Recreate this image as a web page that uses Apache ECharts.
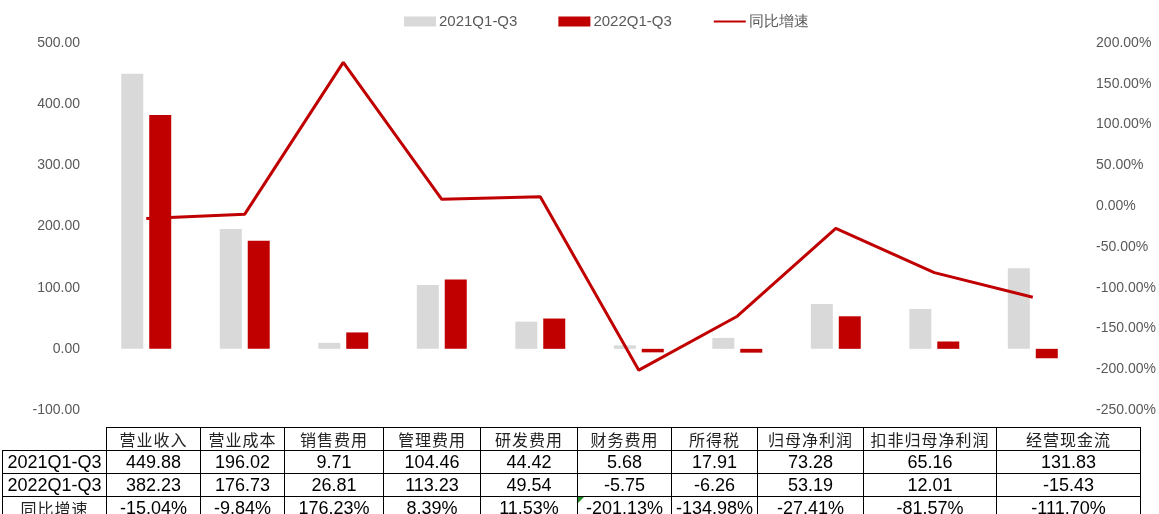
<!DOCTYPE html>
<html>
<head>
<meta charset="utf-8">
<script src="https://cdn.jsdelivr.net/npm/echarts@6/dist/echarts.min.js"></script>
<style>
  html, body { margin: 0; padding: 0; background: #fff; }
  .wrap { position: relative; width: 1159px; height: 514px; overflow: hidden; }
  #chart { width: 1159px; height: 514px; }
  .tbl {
    position: absolute; left: 2px; top: 427px;
    border-collapse: collapse; table-layout: fixed;
    font-family: "Liberation Sans", Arial, sans-serif; font-size: 18px; color: #000;
  }
  .tbl td {
    border: 1px solid #000; padding: 0; text-align: center;
    height: 22px; line-height: 22px; white-space: nowrap; overflow: hidden;
  }
  .tbl td.cn { font-family: "Noto Sans CJK SC", sans-serif; font-size: 16px; letter-spacing: 1px; color: #222; }
  .tbl td.blank { border-top: none; border-left: none; }
  .tbl td.warn { position: relative; }
  .tbl td.warn:before {
    content: ""; position: absolute; left: 0; top: 0;
    border-top: 6px solid #1e8c1e; border-right: 6px solid transparent;
  }
</style>
</head>
<body>
<div class="wrap">
  <div id="chart"></div>
  <table class="tbl" id="tbl"></table>
</div>
<script>
// 数据
var categories = ['营业收入', '营业成本', '销售费用', '管理费用', '研发费用', '财务费用', '所得税', '归母净利润', '扣非归母净利润', '经营现金流'];
var v2021 = [449.88, 196.02, 9.71, 104.46, 44.42, 5.68, 17.91, 73.28, 65.16, 131.83];
var v2022 = [382.23, 176.73, 26.81, 113.23, 49.54, -5.75, -6.26, 53.19, 12.01, -15.43];
var yoy = [-15.04, -9.84, 176.23, 8.39, 11.53, -201.13, -134.98, -27.41, -81.57, -111.70];
var seriesNames = ['2021Q1-Q3', '2022Q1-Q3', '同比增速'];
var colWidths = [104, 94, 84, 99, 97, 97, 94, 86, 106, 133, 144];

var myChart = echarts.init(document.getElementById('chart'));
var axisText = { color: '#595959', fontSize: 14, fontFamily: 'Liberation Sans, Arial, sans-serif' };

var option = {
  animation: false,
  legend: {
    top: 9,
    left: 399,
    itemWidth: 32,
    itemHeight: 10,
    itemGap: 41,
    textStyle: { color: '#595959', fontSize: 15, fontFamily: 'Liberation Sans, Arial, sans-serif', padding: [0, 0, 0, -2] },
    data: [
      { name: seriesNames[0], icon: 'rect' },
      { name: seriesNames[1], icon: 'rect' },
      { name: seriesNames[2], itemStyle: { color: 'transparent', borderWidth: 0 } }
    ]
  },
  grid: { left: 97, right: 75, top: 43, bottom: 104 },
  xAxis: {
    type: 'category',
    data: categories,
    axisLine: { show: false },
    axisTick: { show: false },
    axisLabel: { show: false }
  },
  yAxis: [
    {
      type: 'value', min: -100, max: 500, interval: 100,
      splitLine: { show: false },
      axisLine: { show: false }, axisTick: { show: false },
      axisLabel: Object.assign({ margin: 17, formatter: function (v) { return v.toFixed(2); } }, axisText)
    },
    {
      type: 'value', min: -250, max: 200, interval: 50,
      splitLine: { show: false },
      axisLine: { show: false }, axisTick: { show: false },
      axisLabel: Object.assign({ margin: 14, formatter: function (v) { return v.toFixed(2) + '%'; } }, axisText)
    }
  ],
  series: [
    {
      name: seriesNames[0], type: 'bar', data: v2021,
      barWidth: 22, barGap: '27%',
      itemStyle: { color: '#D9D9D9' }
    },
    {
      name: seriesNames[1], type: 'bar', data: v2022,
      barWidth: 22,
      itemStyle: { color: '#C00000' }
    },
    {
      name: seriesNames[2], type: 'line', yAxisIndex: 1, data: yoy,
      symbol: 'none',
      lineStyle: { color: '#C00000', width: 3 },
      itemStyle: { color: '#C00000' }
    }
  ]
};
myChart.setOption(option);

/* 下方数据表 */
function buildTable() {
  var tbl = document.getElementById('tbl');
  var html = '<colgroup>';
  colWidths.forEach(function (w) { html += '<col style="width:' + w + 'px">'; });
  html += '</colgroup>';
  html += '<tr><td class="blank"></td>';
  categories.forEach(function (c) { html += '<td class="cn">' + c + '</td>'; });
  html += '</tr>';
  var rows = [
    { name: seriesNames[0], vals: v2021.map(function (v) { return v.toFixed(2); }), cn: false },
    { name: seriesNames[1], vals: v2022.map(function (v) { return v.toFixed(2); }), cn: false },
    { name: seriesNames[2], vals: yoy.map(function (v) { return v.toFixed(2) + '%'; }), cn: true }
  ];
  rows.forEach(function (r, ri) {
    html += '<tr><td' + (r.cn ? ' class="cn"' : '') + '>' + r.name + '</td>';
    r.vals.forEach(function (v, i) {
      var cls = (ri === 2 && i === 5) ? ' class="warn"' : '';
      html += '<td' + cls + '>' + v + '</td>';
    });
    html += '</tr>';
  });
  tbl.innerHTML = html;
}
buildTable();
</script>
</body>
</html>
